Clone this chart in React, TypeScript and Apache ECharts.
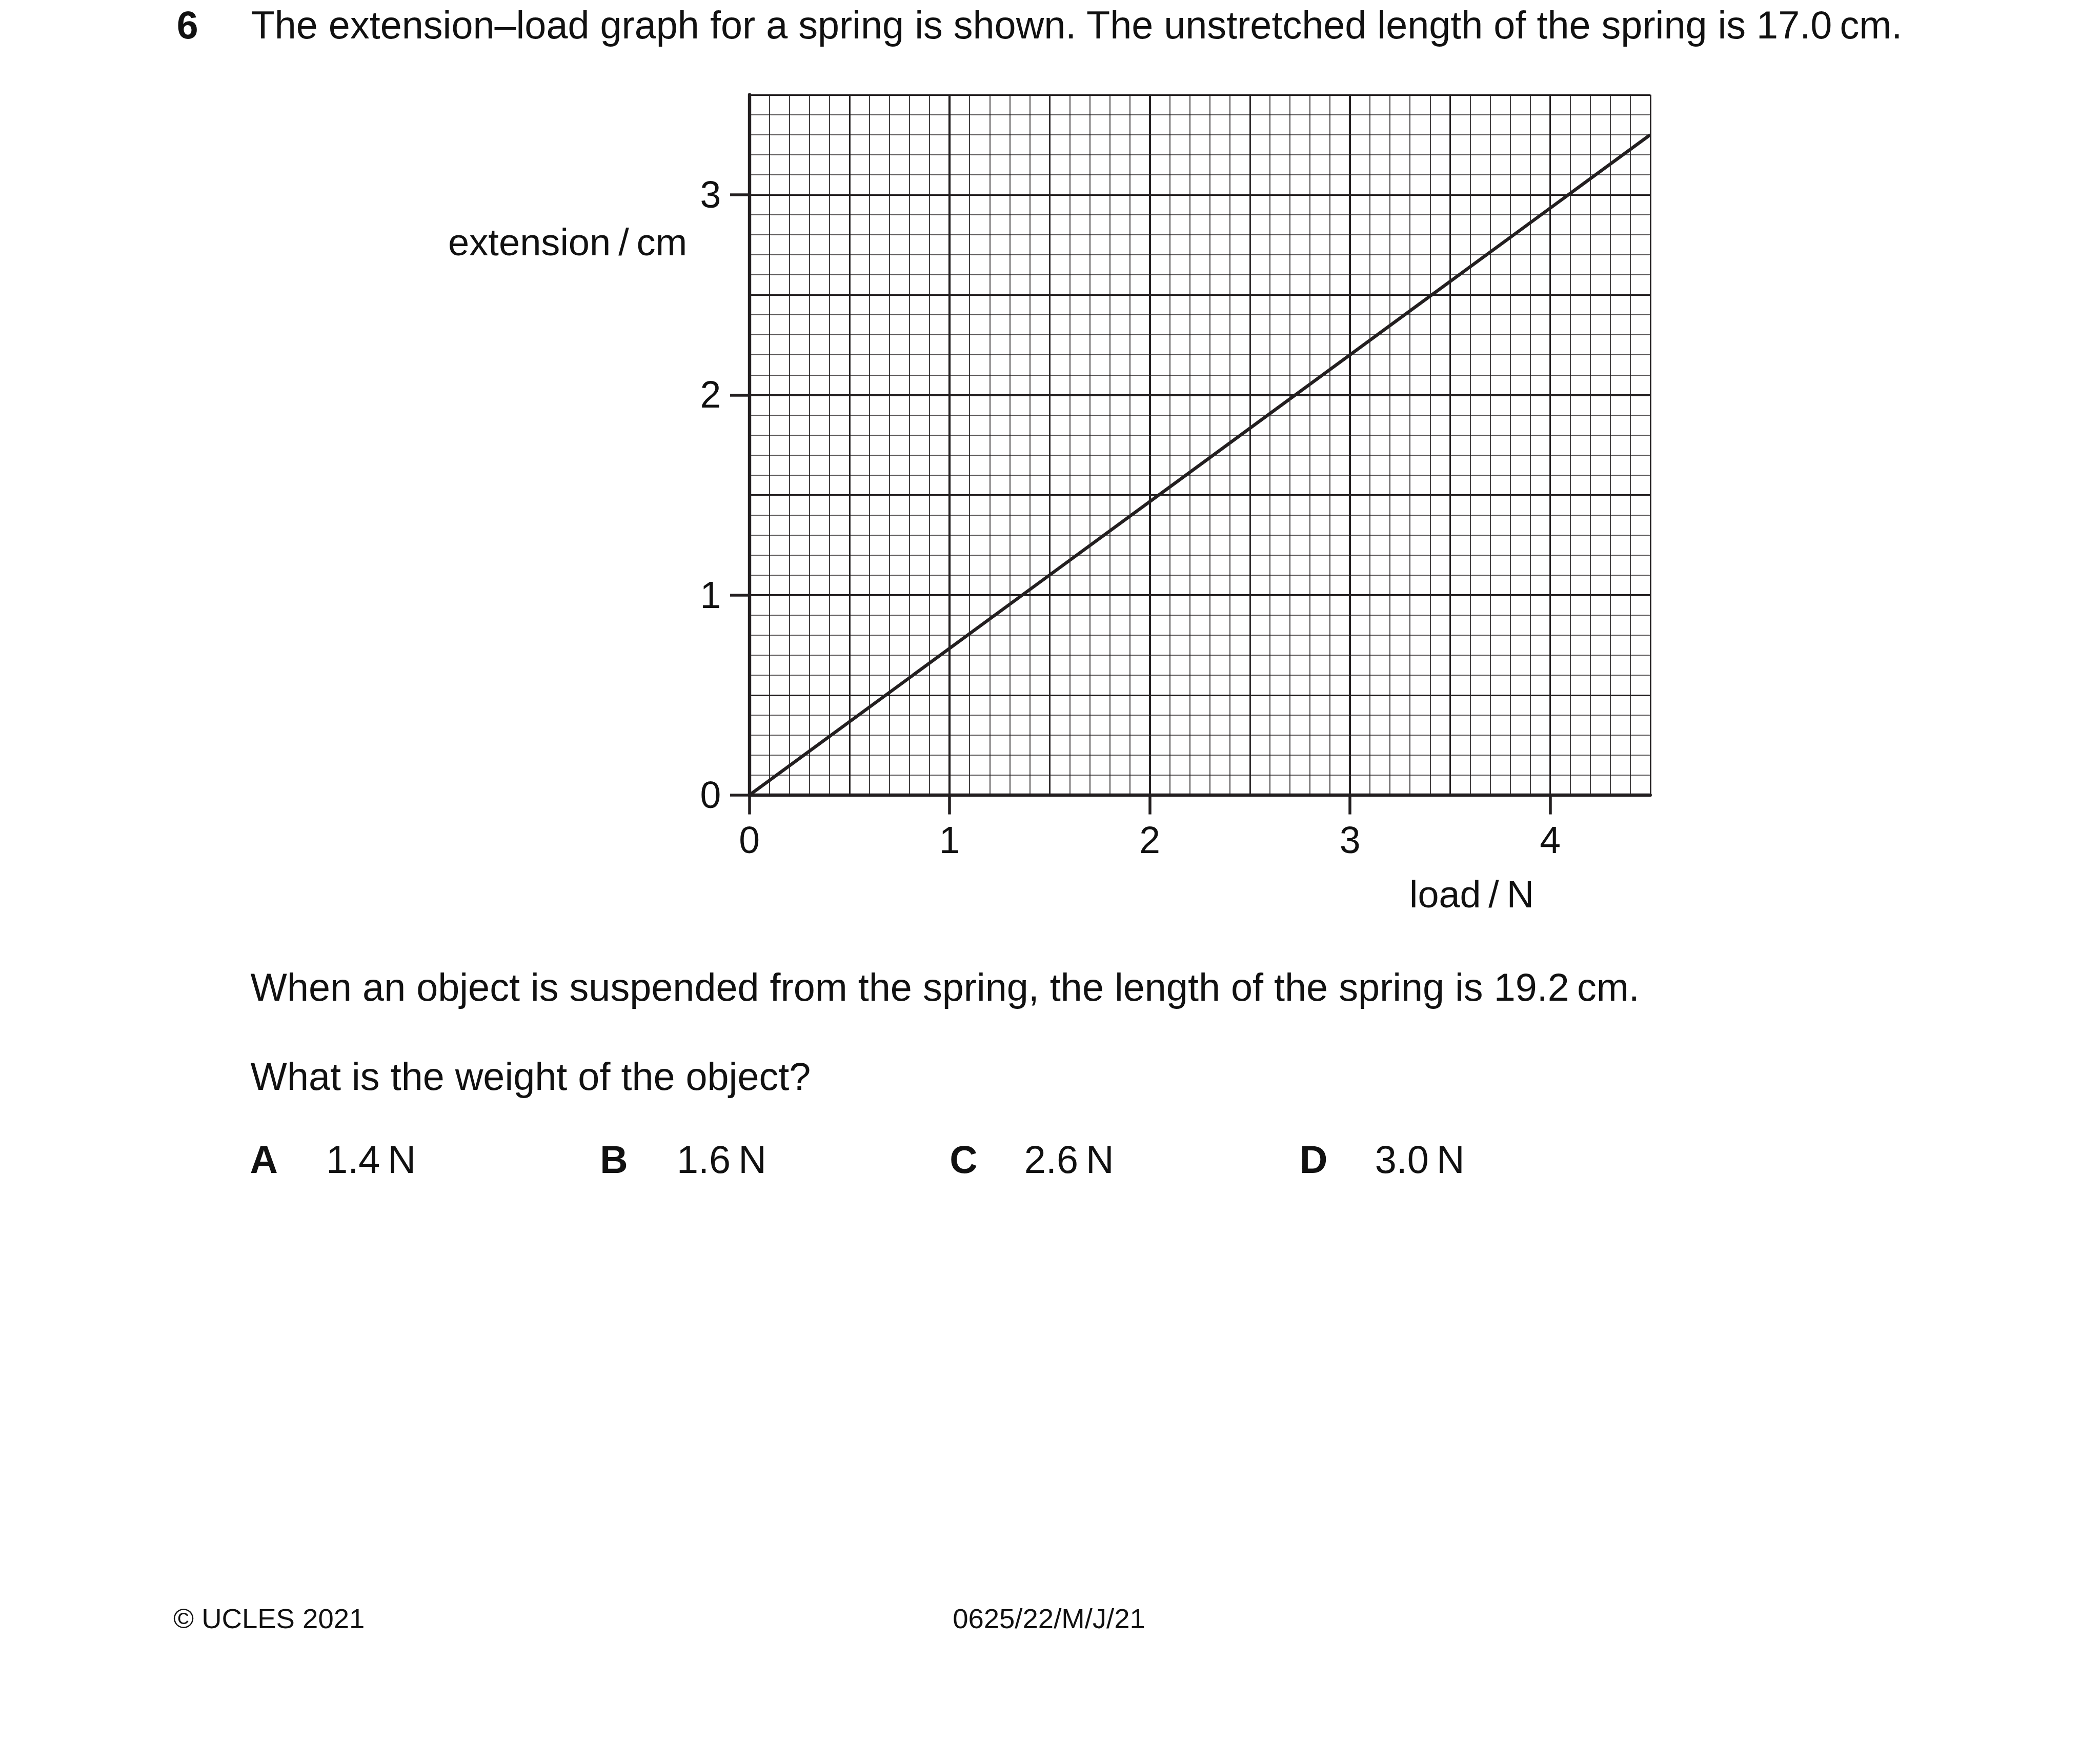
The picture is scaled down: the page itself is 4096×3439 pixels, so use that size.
import React, { useEffect, useRef } from "react";
import * as echarts from "echarts";

// ---- data ----
const loadTicks = [0, 1, 2, 3, 4];
const extensionTicks = [0, 1, 2, 3];
const loadValues = [0, 4.5];
const extensionValues = [0, 3.3];
const loadMax = 4.5;
const extensionMax = 3.5;

const questionNumber = "6";
const questionText =
  "The extension\u2013load graph for a spring is shown. The unstretched length of the spring is 17.0\u2009cm.";
const yAxisName = "extension\u2009/\u2009cm";
const xAxisName = "load\u2009/\u2009N";
const stemText =
  "When an object is suspended from the spring, the length of the spring is 19.2\u2009cm.";
const askText = "What is the weight of the object?";
const optionLetters = ["A", "B", "C", "D"];
const optionValues = ["1.4\u2009N", "1.6\u2009N", "2.6\u2009N", "3.0\u2009N"];
const footerLeft = "\u00A9 UCLES 2021";
const footerCentre = "0625/22/M/J/21";

const S = 0.991;
const INK = "#231f20";
const FONT = "'Liberation Sans', Arial, sans-serif";

export default function App() {
  const ref = useRef<HTMLDivElement>(null);
  useEffect(() => {
    if (!ref.current) return;
    const chart = echarts.init(ref.current, undefined, { renderer: "svg" });

    const gridLeft = 1475 * S;
    const gridTop = 186.5 * S;
    const gridW = (3248 - 1475) * S;
    const gridH = (1565 - 186.5) * S;
    const fs = 74 * S;

    const hiddenAxis = (interval: number, max: number, width: number) => ({
      type: "value",
      min: 0,
      max,
      interval,
      axisLine: { show: false },
      axisTick: { show: false },
      axisLabel: { show: false },
      splitLine: { show: true, lineStyle: { color: INK, width } },
    });

    const mainAxis = (max: number, ticks: number[], isX: boolean) => ({
      type: "value",
      min: 0,
      max,
      interval: 1,
      position: isX ? "bottom" : "left",
      axisLine: { show: true, onZero: false, lineStyle: { color: INK, width: 6.4 } },
      axisTick: {
        show: true,
        customValues: ticks,
        length: 38 * S,
        lineStyle: { color: INK, width: 5.5 },
      },
      axisLabel: {
        show: true,
        customValues: ticks,
        margin: isX ? 52 * S : 56 * S,
        fontSize: fs,
        fontFamily: FONT,
        color: "#111",
        formatter: (v: number) => String(v),
      },
      splitLine: {
        show: true,
        showMinLine: false,
        showMaxLine: false,
        lineStyle: { color: INK, width: 4.2 },
      },
    });

    const txt = (
      text: string,
      x: number,
      y: number,
      size: number,
      bold = false,
      align = "left"
    ) => ({
      type: "text",
      x: x * S,
      y: y * S,
      style: {
        text,
        fontSize: size * S,
        fontFamily: FONT,
        fontWeight: bold ? "bold" : "normal",
        fill: "#111",
        align,
        verticalAlign: "middle",
      },
    });

    const optX = [492, 1181, 1869, 2558];
    const valX = [642, 1332, 2016, 2706];
    const graphics: any[] = [
      txt(questionNumber, 348, 49, 76, true),
      txt(questionText, 494, 49, 76.3),
      txt(yAxisName, 882, 477, 74.8),
      txt(xAxisName, 2774, 1760, 74.5),
      txt(stemText, 493, 1943, 76.3),
      txt(askText, 493, 2119, 76.3),
      txt(footerLeft, 341, 3186, 55),
      txt(footerCentre, 1875, 3186, 55),
    ];
    optionLetters.forEach((l, i) => {
      graphics.push(txt(l, optX[i], 2283, 76, true));
      graphics.push(txt(optionValues[i], valX[i], 2283, 76.3));
    });

    chart.setOption({
      animation: false,
      backgroundColor: "#ffffff",
      grid: { left: gridLeft, top: gridTop, width: gridW, height: gridH, show: false },
      xAxis: [
        hiddenAxis(0.1, loadMax, 1.7),
        hiddenAxis(0.5, loadMax, 2.8),
        mainAxis(loadMax, loadTicks, true),
      ],
      yAxis: [
        hiddenAxis(0.1, extensionMax, 1.7),
        hiddenAxis(0.5, extensionMax, 2.8),
        mainAxis(extensionMax, extensionTicks, false),
      ],
      series: [
        {
          type: "line",
          xAxisIndex: 2,
          yAxisIndex: 2,
          data: loadValues.map((x, i) => [x, extensionValues[i]]),
          symbol: "none",
          clip: false,
          z: 10,
          lineStyle: { color: INK, width: 6.4 },
        },
      ],
      graphic: graphics,
    });
    return () => chart.dispose();
  }, []);

  return (
    <div
      ref={ref}
      style={{ position: "absolute", left: 0, top: 0, width: 4096, height: 3439 }}
    />
  );
}
